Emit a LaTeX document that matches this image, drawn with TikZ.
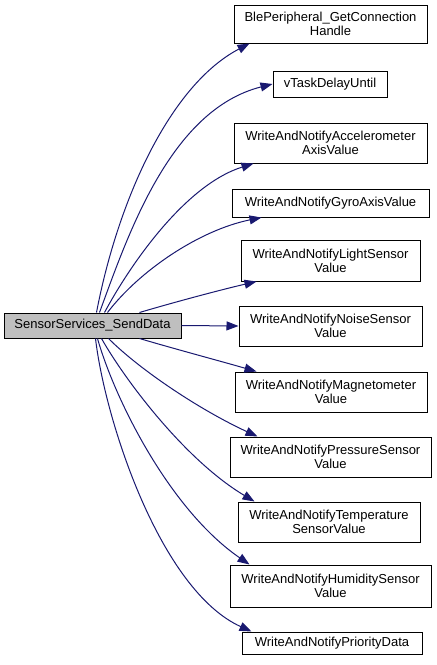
\documentclass[tikz,border=0pt]{standalone}
\usepackage{fontspec}
\setmainfont{Liberation Sans}
\usetikzlibrary{arrows.meta,calc}
\definecolor{edgeblue}{RGB}{25,25,112}
\definecolor{srcgray}{RGB}{191,191,191}
\begin{document}
\begin{tikzpicture}[x=1pt,y=-1pt,
  box/.style={draw=black,line width=1pt,fill=white,inner sep=0pt,align=center,
    font=\fontsize{13}{14}\selectfont},
  srcbox/.style={box,fill=srcgray},
  edge/.style={draw=edgeblue,line width=1pt,-{Triangle[length=12pt,width=9pt]}}]
\useasboundingbox (0,0) rectangle (437,665);
\node[srcbox,minimum width=177pt,minimum height=25pt] (src) at (92.5,325.5) {SensorServices\_SendData};
\node[box,minimum width=193pt,minimum height=38pt] (n1) at (330.5,24) {BlePeripheral\_GetConnection\\Handle};
\node[box,minimum width=114pt,minimum height=26pt] (n2) at (330,84) {vTaskDelayUntil};
\node[box,minimum width=193pt,minimum height=40pt] (n3) at (330.5,143) {WriteAndNotifyAccelerometer\\AxisValue};
\node[box,minimum width=197pt,minimum height=28pt] (n4) at (330.5,203) {WriteAndNotifyGyroAxisValue};
\node[box,minimum width=179pt,minimum height=41pt] (n5) at (330.5,260.5) {WriteAndNotifyLightSensor\\Value};
\node[box,minimum width=183pt,minimum height=40pt] (n6) at (330.5,326) {WriteAndNotifyNoiseSensor\\Value};
\node[box,minimum width=192pt,minimum height=40pt] (n7) at (331,392) {WriteAndNotifyMagnetometer\\Value};
\node[box,minimum width=201pt,minimum height=40pt] (n8) at (330.5,457) {WriteAndNotifyPressureSensor\\Value};
\node[box,minimum width=182pt,minimum height=40pt] (n9) at (329,522) {WriteAndNotifyTemperature\\SensorValue};
\node[box,minimum width=201pt,minimum height=42pt] (n10) at (330.5,586) {WriteAndNotifyHumiditySensor\\Value};
\node[box,minimum width=180pt,minimum height=22pt] (n11) at (332,643) {WriteAndNotifyPriorityData};
% start points on source
\coordinate (s1) at ($(src.north west)+(93,0)$);
\coordinate (s2) at ($(src.north west)+(96,0)$);
\coordinate (s3) at ($(src.north west)+(101,0)$);
\coordinate (s4) at ($(src.north west)+(104,0)$);
\coordinate (s5) at ($(src.north west)+(136,0)$);
\coordinate (s7) at ($(src.south west)+(136,0)$);
\coordinate (s8) at ($(src.south west)+(105,0)$);
\coordinate (s9) at ($(src.south west)+(98,0)$);
\coordinate (s10) at ($(src.south west)+(94,0)$);
\coordinate (s11) at ($(src.south west)+(92,0)$);
% edges
\draw[edge] (s1) .. controls (118,200) and (170,85) .. ($(n1.south west)+(16,0)$);
\draw[edge] (s2) .. controls (128,235) and (170,110) .. (n2.west);
\draw[edge] (s3) .. controls (130,265) and (185,185) .. ($(n3.south west)+(20,0)$);
\draw[edge] (s4) .. controls (140,270) and (200,230) .. ($(n4.south west)+(30,0)$);
\draw[edge] (s5) .. controls (175,302) and (220,290) .. ($(n5.south west)+(16,0)$);
\draw[edge] (src.east) -- (n6.west);
\draw[edge] (s7) .. controls (175,349) and (220,361) .. ($(n7.north west)+(22,0)$);
\draw[edge] (s8) .. controls (140,370) and (200,410) .. ($(n8.north west)+(28,0)$);
\draw[edge] (s9) .. controls (125,380) and (185,460) .. ($(n9.north west)+(17,0)$);
\draw[edge] (s10) .. controls (115,400) and (170,510) .. ($(n10.north west)+(20,0)$);
\draw[edge] (s11) .. controls (105,420) and (160,590) .. ($(n11.north west)+(10,0)$);
\end{tikzpicture}
\end{document}
